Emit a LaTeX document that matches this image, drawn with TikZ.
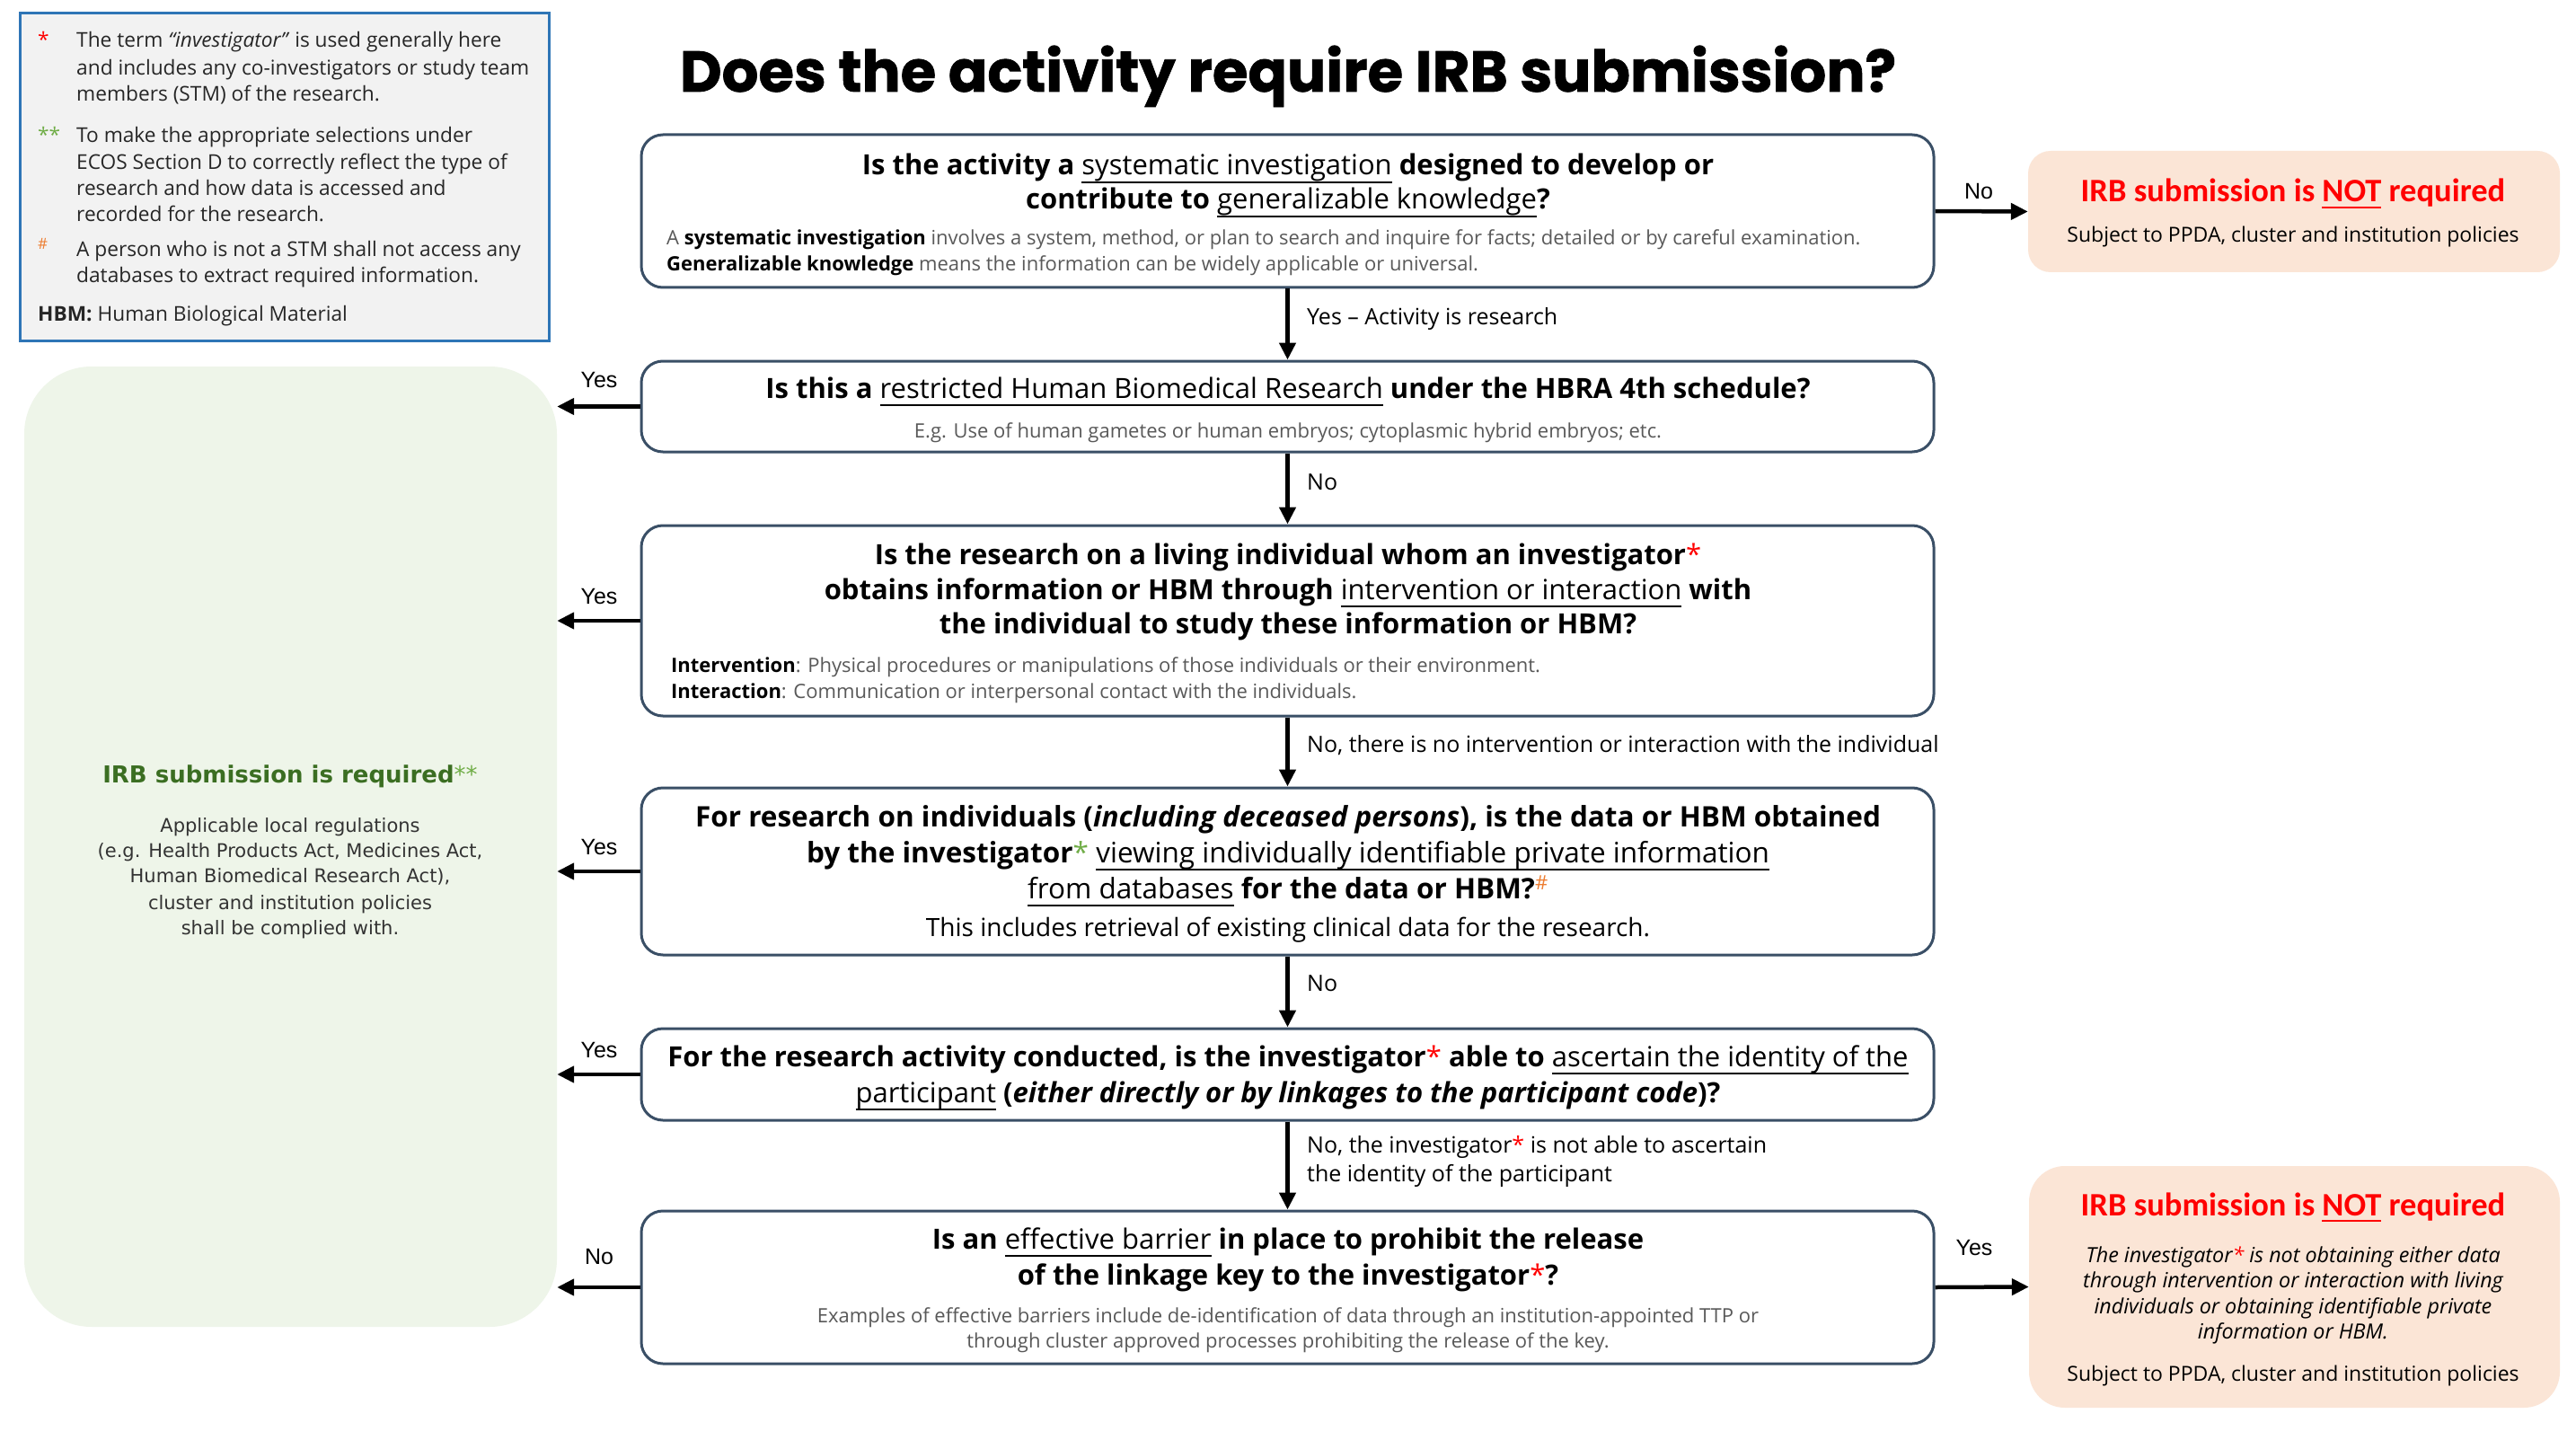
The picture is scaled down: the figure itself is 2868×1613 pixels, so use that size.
\documentclass[tikz,border=0pt]{standalone}
\usepackage{fontspec}
\usepackage{graphicx}
\usetikzlibrary{arrows.meta,calc}
\setmainfont{Open Sans}
\newfontfamily\poppins{Poppins}[BoldFeatures={FakeBold=1.2}]
\newfontfamily\carlito{Carlito}
\newfontfamily\dejavu{DejaVu Sans}
\newfontfamily\arialf{Liberation Sans}
\definecolor{boxc}{HTML}{3A4F66}
\definecolor{legb}{HTML}{2E75B6}
\definecolor{legf}{HTML}{F2F2F2}
\definecolor{grnf}{HTML}{EEF5E9}
\definecolor{dgrn}{HTML}{3B6E22}
\definecolor{lgrn}{HTML}{70AD47}
\definecolor{peach}{HTML}{FBE5D6}
\definecolor{redc}{HTML}{FF0000}
\definecolor{orng}{HTML}{ED7D31}
\definecolor{graytxt}{HTML}{595959}
\newcommand\fsz[1]{\fontsize{#1pt}{#1pt}\selectfont}
\newcommand\myul[2]{{\setbox0\hbox{#2}\leavevmode\rlap{\rule[-#1]{\wd0}{2pt}}\box0}}
\newcommand\ulr[1]{{\mdseries\myul{0.29em}{#1}}}
\newcommand\ulb[1]{\myul{0.2em}{#1}}
\newcommand\rs{{\color{redc}\mdseries*}}
\newcommand\gs{{\color{lgrn}\mdseries*}}
\tikzset{
  qbox/.style={draw=boxc, line width=3pt, rounded corners=24pt, fill=white},
  nbox/.style={fill=peach, draw=none},
  tline/.style={anchor=base, inner sep=0pt, font=\fsz{31}\bfseries},
  sline/.style={anchor=base west, inner sep=0pt, font=\fsz{22}, text=graytxt},
  vlab/.style={anchor=base west, inner sep=0pt, font=\fsz{25}},
  hlab/.style={anchor=base, inner sep=0pt, font=\arialf\fsz{25}},
  legt/.style={anchor=base west, inner sep=0pt, font=\fsz{22.7}, text=black!85},
  grt/.style={anchor=base, inner sep=0pt, font=\dejavu\fsz{21}, text=black!80},
  nt/.style={anchor=base, inner sep=0pt, font=\fsz{23}},
  arr/.style={line width=4.5pt, -{Triangle[length=19pt,width=18pt]}},
}
\begin{document}
\begin{tikzpicture}[x=1pt,y=-1pt]
\fill[white] (0,0) rectangle (2868,1613);
\useasboundingbox (0,0) rectangle (2868,1613);

% title
\node[anchor=base, inner sep=0pt] (title) at (1434,102)
  {\resizebox{1354pt}{\height}{\poppins\bfseries\fsz{64}Does the activity require IRB submission?}};

% legend
\node[draw=legb, fill=legf, line width=3pt, minimum width=589pt, minimum height=364pt, inner sep=0pt] (legend) at (316.5,197) {};
\node[legt, text=redc] (m1) at (42,53) {*};
\node[legt] (l11) at (85,53) {The term \textit{“investigator”} is used generally here};
\node[legt] (l12) at (85,84) {and includes any co-investigators or study team};
\node[legt] (l13) at (85,113) {members (STM) of the research.};
\node[legt, text=lgrn] (m2) at (42,159) {**};
\node[legt] (l21) at (85,159) {To make the appropriate selections under};
\node[legt] (l22) at (85,189) {ECOS Section D to correctly reflect the type of};
\node[legt] (l23) at (85,218) {research and how data is accessed and};
\node[legt] (l24) at (85,247) {recorded for the research.};
\node[legt, text=orng, font=\fsz{17}] (m3) at (42,278) {\#};
\node[legt] (l31) at (85,286) {A person who is not a STM shall not access any};
\node[legt] (l32) at (85,315) {databases to extract required information.};
\node[legt] (l41) at (42,358) {\textbf{HBM:} Human Biological Material};

% green box
\node[fill=grnf, rounded corners=75pt, minimum width=593pt, minimum height=1069pt, inner sep=0pt] (green) at (323.5,942.5) {};
\node[anchor=base, inner sep=0pt, font=\dejavu\bfseries\fsz{26}, text=dgrn] (gt) at (323,871) {IRB submission is required{\color{lgrn}\mdseries**}};
\node[grt] (g1) at (323,926) {Applicable local regulations};
\node[grt] (g2) at (323,954) {(e.g. Health Products Act, Medicines Act,};
\node[grt] (g3) at (323,982) {Human Biomedical Research Act),};
\node[grt] (g4) at (323,1012) {cluster and institution policies};
\node[grt] (g5) at (323,1040) {shall be complied with.};

% NOT boxes
\node[nbox, rounded corners=25pt, minimum width=592pt, minimum height=135pt] (n1) at (2554,235.5) {};
\node[anchor=base, inner sep=0pt, font=\carlito\bfseries\fsz{36.5}, text=redc] (n1t) at (2553,225) {IRB submission is \ulb{NOT} required};
\node[nt] (n1s) at (2553,270) {Subject to PPDA, cluster and institution policies};

\node[nbox, rounded corners=40pt, minimum width=591pt, minimum height=269pt] (n2) at (2554.5,1432.5) {};
\node[anchor=base, inner sep=0pt, font=\carlito\bfseries\fsz{36.5}, text=redc] (n2t) at (2553,1353) {IRB submission is \ulb{NOT} required};
\node[nt, font=\fsz{23.3}\itshape] (n2a) at (2553,1405) {The investigator\rs{} is not obtaining either data};
\node[nt, font=\fsz{23.3}\itshape] (n2b) at (2553,1433) {through intervention or interaction with living};
\node[nt, font=\fsz{23.3}\itshape] (n2c) at (2553,1462) {individuals or obtaining identifiable private};
\node[nt, font=\fsz{23.3}\itshape] (n2d) at (2553,1490) {information or HBM.};
\node[nt] (n2s) at (2553,1537) {Subject to PPDA, cluster and institution policies};

% question boxes
\node[qbox, minimum width=1439pt, minimum height=170pt] (b1) at (1433.5,235) {};
\node[tline] (b1a) at (1434,195) {Is the activity a \ulr{systematic investigation} designed to develop or};
\node[tline] (b1b) at (1434,233) {contribute to \ulr{generalizable knowledge}?};
\node[sline] (b1c) at (742,273) {A {\color{black}\bfseries systematic investigation} involves a system, method, or plan to search and inquire for facts; detailed or by careful examination.};
\node[sline] (b1d) at (742,302) {{\color{black}\bfseries Generalizable knowledge} means the information can be widely applicable or universal.};

\node[qbox, minimum width=1439pt, minimum height=101pt] (b2) at (1433.5,452.5) {};
\node[tline] (b2a) at (1434,443) {Is this a \ulr{restricted Human Biomedical Research} under the HBRA 4th schedule?};
\node[sline, anchor=base] (b2b) at (1434,487) {E.g. Use of human gametes or human embryos; cytoplasmic hybrid embryos; etc.};

\node[qbox, minimum width=1439pt, minimum height=212pt] (b3) at (1433.5,691) {};
\node[tline] (b3a) at (1434,628) {Is the research on a living individual whom an investigator\rs};
\node[tline] (b3b) at (1434,667) {obtains information or HBM through \ulr{intervention or interaction} with};
\node[tline] (b3c) at (1434,705) {the individual to study these information or HBM?};
\node[sline] (b3d) at (747,748) {{\color{black}\bfseries Intervention}: Physical procedures or manipulations of those individuals or their environment.};
\node[sline] (b3e) at (747,777) {{\color{black}\bfseries Interaction}: Communication or interpersonal contact with the individuals.};

\node[qbox, minimum width=1439pt, minimum height=186pt] (b4) at (1433.5,970) {};
\node[tline, font=\fsz{31.5}\bfseries] (b4a) at (1434,920) {For research on individuals (\textit{including deceased persons}), is the data or HBM obtained};
\node[tline, font=\fsz{31.5}\bfseries] (b4b) at (1434,960) {by the investigator\gs{} \ulr{viewing individually identifiable private information}};
\node[tline, font=\fsz{31.5}\bfseries] (b4c) at (1434,1000) {\ulr{from databases} for the data or HBM?\textsuperscript{\color{orng}\mdseries\#}};
\node[tline, font=\fsz{28}] (b4d) at (1434,1042) {This includes retrieval of existing clinical data for the research.};

\node[qbox, minimum width=1439pt, minimum height=102pt] (b5) at (1433.5,1196) {};
\node[tline] (b5a) at (1434,1187) {For the research activity conducted, is the investigator\rs{} able to \ulr{ascertain the identity of the}};
\node[tline] (b5b) at (1434,1227) {\ulr{participant} (\textit{either directly or by linkages to the participant code})?};

\node[qbox, minimum width=1439pt, minimum height=170pt] (b6) at (1433.5,1433) {};
\node[tline] (b6a) at (1434,1390) {Is an \ulr{effective barrier} in place to prohibit the release};
\node[tline] (b6b) at (1434,1430) {of the linkage key to the investigator\rs?};
\node[sline, anchor=base] (b6c) at (1434,1472) {Examples of effective barriers include de-identification of data through an institution-appointed TTP or};
\node[sline, anchor=base] (b6d) at (1434,1500) {through cluster approved processes prohibiting the release of the key.};

% vertical arrows and labels
\draw[arr] (b1.south) -- (b2.north);
\draw[arr] (b2.south) -- (b3.north);
\draw[arr] (b3.south) -- (b4.north);
\draw[arr] (b4.south) -- (b5.north);
\draw[arr] (b5.south) -- (b6.north);
\node[vlab] (v1) at (1455,362) {Yes -- Activity is research};
\node[vlab] (v2) at (1455,545) {No};
\node[vlab] (v3) at (1455,837) {No, there is no intervention or interaction with the individual};
\node[vlab] (v4) at (1455,1103) {No};
\node[vlab] (v5) at (1455,1283) {No, the investigator\rs{} is not able to ascertain};
\node[vlab] (v6) at (1455,1315) {the identity of the participant};

% horizontal arrows
\draw[arr] (b2.west) -- (b2.west -| green.east);
\draw[arr] (b3.west) -- (b3.west -| green.east);
\draw[arr] (b4.west) -- (b4.west -| green.east);
\draw[arr] (b5.west) -- (b5.west -| green.east);
\draw[arr] (b6.west) -- (b6.west -| green.east);
\draw[arr] (b1.east) -- (n1.west);
\draw[arr] (b6.east) -- (n2.west);
\node[hlab] (h2) at (667,431) {Yes};
\node[hlab] (h3) at (667,672) {Yes};
\node[hlab] (h4) at (667,951) {Yes};
\node[hlab] (h5) at (667,1177) {Yes};
\node[hlab] (h6) at (667,1407) {No};
\node[hlab] (h1) at (2203,222) {No};
\node[hlab] (h7) at (2198,1397) {Yes};
\end{tikzpicture}
\end{document}
